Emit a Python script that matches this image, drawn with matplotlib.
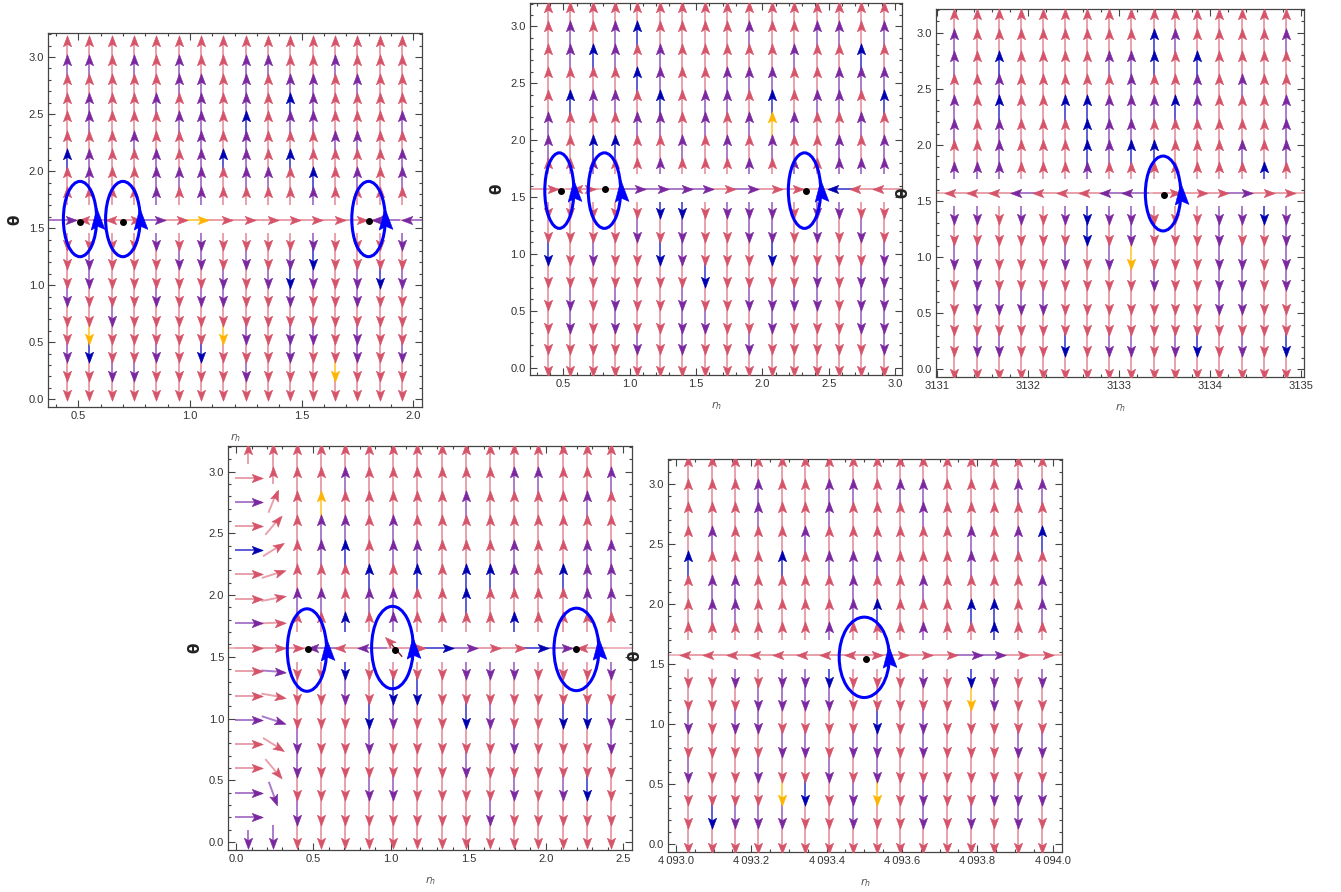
import numpy as np
import matplotlib
matplotlib.use("Agg")
import matplotlib.pyplot as plt
from matplotlib.path import Path
from matplotlib.patches import Ellipse
from matplotlib.ticker import MultipleLocator, FuncFormatter

# ---- data ----------------------------------------------------------------
# every panel: column positions, arrow rows above / below theta = pi/2,
# colour code per column (r red, p purple, b blue, o orange, top -> bottom)
HALF_PI = 1.5708

P1_COLS = [0.45, 0.55, 0.65, 0.75, 0.85, 0.95, 1.05, 1.15, 1.25, 1.35, 1.45, 1.55, 1.65, 1.75, 1.85, 1.95]
P1_UP_Y = [3.14, 2.97, 2.81, 2.64, 2.48, 2.31, 2.15, 1.99, 1.82]
P1_DOWN_Y = [1.35, 1.19, 1.02, 0.86, 0.69, 0.53, 0.37, 0.20, 0.04]
P1_UP_C = ["rprrrrbrr", "rprpprppr", "rrrrrrrrr", "rprrrprrr", "rrrprrppp", "rpprprrpr",
           "rrppppppp", "rrrrrrbrr", "rpppbpppr", "rprrrrrpr", "rrpbprbrr", "rrppprrbp",
           "rprrrprrr", "rrprrprpr", "rrrrrrrrr", "rrrrprppr"]
P1_DOWN_C = ["rrrprrprr", "rpprrobrr", "rrrrprrpr", "rrrrrrrpr", "prrprrprr", "rprrrrrrr",
             "pprprrbrr", "rrpprorrr", "rprrrprpr", "rrprrrrrr", "rpbprpprr", "pbprrprrr",
             "rrrrrrror", "rrpprpprr", "rrbrrrrrr", "prprrrprr"]
P1_H_X = [0.466, 0.525, 0.645, 0.76, 0.866, 0.965, 1.06, 1.165, 1.27, 1.37, 1.47, 1.57, 1.67, 1.77, 1.84, 1.97]
P1_H_DIR = "RLLRRRRRRRRRRRLL"
P1_H_C = "prrrprorrrrrrrpp"
P1_DOTS_X = [0.51, 0.70, 1.80]
P1_DOTS_Y = [1.555, 1.555, 1.56]
P1_ELL_X = [0.508, 0.70, 1.80]
P1_ELL_Y = [1.58, 1.58, 1.58]
P1_ELL_W = [0.149, 0.155, 0.15]
P1_ELL_H = [0.66, 0.66, 0.66]

P2_COLS = [0.384, 0.553, 0.722, 0.891, 1.059, 1.228, 1.397, 1.566, 1.734, 1.903, 2.072, 2.241, 2.409, 2.578, 2.747, 2.916]
P2_UP_Y = [3.17, 3.0, 2.80, 2.60, 2.40, 2.20, 2.0, 1.80]
P2_DOWN_Y = [1.36, 1.15, 0.95, 0.75, 0.55, 0.35, 0.16, -0.03]
P2_UP_C = ["rrrrrppr", "rpprbrrr", "rrbrprbp", "rpprprbr", "rbrbrprr", "rrppbprp",
           "rrrrrrpr", "rrrrpprr", "rrrpprpr", "rprprprp", "rrrpbopr", "rrprrprp",
           "rprrprrr", "rprpprpp", "rrbprprp", "rprpbrpp"]
P2_DOWN_C = ["rrbrrrrr", "rrrrpprr", "rrprrrrr", "rrrrpprr", "rprrrrpr", "brbrrrrr",
             "bpprpppr", "rrrbrprr", "prrrrrrr", "pprrprpr", "ppbrpprr", "rrrrprrr",
             "pprpprrr", "prrrrrrr", "rprppprr", "rrpppppr"]
P2_H_X = [0.425, 0.60, 0.70, 1.08, 1.254, 1.43, 1.593, 1.756, 1.932, 2.108, 2.27, 2.535, 2.698, 2.874]
P2_H_DIR = "RLRRRRRRRRRLLL"
P2_H_C = "rrrpppprprrbrr"
P2_DOTS_X = [0.48, 0.817, 2.33]
P2_DOTS_Y = [1.55, 1.566, 1.55]
P2_ELL_X = [0.47, 0.81, 2.318]
P2_ELL_Y = [1.556, 1.556, 1.556]
P2_ELL_W = [0.219, 0.244, 0.244]
P2_ELL_H = [0.664, 0.664, 0.664]

P3_COLS = [3131.187, 3131.434, 3131.676, 3131.918, 3132.16, 3132.40, 3132.645, 3132.89,
           3133.13, 3133.38, 3133.62, 3133.86, 3134.10, 3134.35, 3134.60, 3134.84]
P3_UP_Y = [3.17, 2.99, 2.79, 2.59, 2.40, 2.19, 2.0, 1.80]
P3_DOWN_Y = [1.34, 1.15, 0.94, 0.75, 0.54, 0.35, 0.16, -0.04]
P3_UP_C = ["rpprpprp", "rrrrrrrp", "rrbpbppp", "rrrrrrrr", "rrrrrrrr", "rrrrbrrr",
           "rrrrbbbp", "rrprpppr", "rrppppbr", "rbbrprbr", "rprrbrrr", "rrbpprrr",
           "rrrrrrrr", "rrrprrpr", "rrrrrrrb", "rprrpppr"]
P3_DOWN_C = ["prprrrrr", "prppprpr", "rrrrprpr", "prrrprrr", "rrrrprrr", "prprrrbr",
             "bbrrrrrr", "prprrrpr", "pporrrpr", "rrrprrrr", "rrrrrrpr", "rrrrrrbr",
             "ppppprrr", "prppprpr", "brrrrrrr", "pppprrbr"]
P3_H_X = [3131.14, 3131.38, 3131.62, 3131.87, 3132.11, 3132.37, 3132.61, 3132.85, 3133.09,
          3133.62, 3133.91, 3134.15, 3134.41, 3134.65, 3134.88]
P3_H_DIR = "LLLLLLLLLRRRRRR"
P3_H_C = "rrrprrrpprrrprr"
P3_DOTS_X = [3133.50]
P3_DOTS_Y = [1.55]
P3_ELL_X = [3133.485]
P3_ELL_Y = [1.567]
P3_ELL_W = [0.39]
P3_ELL_H = [0.667]

P4_COLS = [0.392, 0.547, 0.704, 0.861, 1.016, 1.171, 1.328, 1.485, 1.64, 1.797, 1.952, 2.109, 2.264, 2.421]
P4_UP_Y = [3.18, 3.0, 2.80, 2.61, 2.41, 2.21, 2.02, 1.82]
P4_DOWN_Y = [1.36, 1.155, 0.964, 0.76, 0.57, 0.383, 0.18, -0.01]
P4_UP_C = ["rrrrrrpr", "rropprpr", "rprpbrrb", "rrrrrbpr", "rrrpprpp", "rrrrpbrr", "rrrrrrrr",
           "rrprrbbr", "rrrrrbrr", "rprrpprb", "rprrrrrr", "rrrrrbrr", "rrprpppr", "rprrpppr"]
P4_DOWN_C = ["rrrpprpr", "rrrrrrrr", "bprrrrrr", "rrbprprr", "rbprrprr", "rbrrrrrr", "rrrrrrrr",
             "prbrprrr", "prprrrpr", "prrprprr", "rrrrrrrr", "rrbrrprr", "rrbrrbrr", "prpprrrr"]
P4_H_X = [0.402, 0.499, 0.671, 0.822, 1.188, 1.371, 1.522, 1.672, 1.833, 1.984, 2.135, 2.232]
P4_H_DIR = "RLLLRRRRRRRL"
P4_H_C = "rprprbprrbpr"
# first two columns of the lower-left panel: nearly horizontal field
P4_LEFT_X = 0.08
P4_LEFT_Y = [2.95, 2.754, 2.56, 2.364, 2.167, 1.97, 1.775, 1.573, 1.383, 1.186, 0.99, 0.794, 0.60, 0.40, 0.20]
P4_LEFT_C = "rprbrrprrrprrpp"
P4_DIAG_X = 0.237
P4_DIAG_Y = [2.754, 2.56, 2.364, 2.167, 1.97, 1.775, 1.573, 1.383, 1.186, 0.99, 0.794, 0.60, 0.40]
P4_DIAG_ANG = [68, 50, 32, 18, 11, 2, 0, -4, -10, -18, -32, -50, -70]
P4_DIAG_C = "rrrrrrrprprrp"
P4_EDGE_X = [0.08, 0.08, 0.237, 0.237, 0.237]
P4_EDGE_HEAD = [3.18, -0.01, 3.18, 3.0, -0.01]
P4_EDGE_TAIL = [3.06, 0.10, 3.0, 2.90, 0.14]
P4_EDGE_C = "rprrp"
P4_SMALL = [1.07, 1.505, 0.985, 1.63]
P4_DOTS_X = [0.467, 1.026, 2.195]
P4_DOTS_Y = [1.567, 1.553, 1.562]
P4_ELL_X = [0.458, 1.01, 2.198]
P4_ELL_Y = [1.555, 1.575, 1.56]
P4_ELL_W = [0.254, 0.269, 0.29]
P4_ELL_H = [0.668, 0.668, 0.668]

P5_COLS = [4093.033, 4093.095, 4093.156, 4093.218, 4093.283, 4093.344, 4093.407, 4093.471,
           4093.533, 4093.595, 4093.657, 4093.720, 4093.783, 4093.845, 4093.909, 4093.971]
P5_UP_Y = [3.19, 3.0, 2.805, 2.61, 2.40, 2.196, 2.0, 1.807]
P5_DOWN_Y = [1.35, 1.156, 0.962, 0.767, 0.559, 0.365, 0.171, -0.037]
P5_UP_C = ["rrrrbrrr", "rrrprppr", "rrrrrppr", "rpprrrrr", "rrrrbrrr", "rrrprrrr",
           "rpprprrp", "rprrpppr", "rrrrprbr", "rprrrrrr", "rpprrprp", "rrrrrrrr",
           "rrrpprbr", "rrrrrrbb", "rprprrrr", "rprbrppr"]
P5_DOWN_C = ["rrprprrr", "rrrrrrbr", "prprrrpr", "rpprprpr", "pprpropr", "pprprbrr",
             "bprrprrr", "rrrprppr", "rrbpporr", "rrrrrrrr", "prpprppr", "rrrrrrrr",
             "borrrrpr", "pprrrprr", "rrrprppr", "prrprprr"]
P5_H_X = [4093.024, 4093.086, 4093.148, 4093.21, 4093.272, 4093.334, 4093.396, 4093.462,
          4093.535, 4093.603, 4093.666, 4093.732, 4093.798, 4093.86, 4093.922, 4093.988]
P5_H_DIR = "LLLLLLLLRRRRRRRR"
P5_H_C = "rrrrrrrrrrrrpprr"
P5_DOTS_X = [4093.504]
P5_DOTS_Y = [1.544]
P5_ELL_X = [4093.50]
P5_ELL_Y = [1.555]
P5_ELL_W = [0.133]
P5_ELL_H = [0.67]

# ---- styling ---------------------------------------------------------------
HEAD = {'r': '#d6546a', 'p': '#7b28a0', 'b': '#0000b0', 'o': '#ffb400'}
LINE = {'r': '#e9a1ac', 'p': '#ab7bca', 'b': '#5c5cd8', 'o': '#ffcf55'}
LOOP = '#0000ff'
W, H = 1341, 892
UP_START, DOWN_START = 1.70, 1.46
Y_LIM = (-0.065, 3.208)

SMALL = np.array([[0, 1], [-0.72, -0.92], [0, -0.5], [0.72, -0.92], [0, 1]])
BIG = np.array([[0, 1], [-0.6, -0.9], [0, -0.6], [0.6, -0.9], [0, 1]])
CODES = [Path.MOVETO, Path.LINETO, Path.LINETO, Path.LINETO, Path.CLOSEPOLY]


def head(ax, x, y, ang, col, big=False, ms=8.3, z=3):
    t = np.deg2rad(ang - 90)
    c, s = np.cos(t), np.sin(t)
    v = (BIG if big else SMALL) @ np.array([[c, s], [-s, c]])
    ax.plot([x], [y], ls='none', marker=Path(v, CODES), ms=ms * np.abs(v).max(),
            mfc=col, mec=col, mew=0.4, zorder=z)


def seg(ax, x0, y0, x1, y1, c, lw=1.4):
    ax.plot([x0, x1], [y0, y1], color=LINE[c], lw=lw, solid_capstyle='butt', zorder=1)


def px_arrow(ax, xc, yc, ang, length, c):
    X, Y = ax.transData.transform((xc, yc))
    r = np.deg2rad(ang)
    dx, dy = np.cos(r) * length / 2, np.sin(r) * length / 2
    inv = ax.transData.inverted()
    (x0, y0), (x1, y1) = inv.transform([(X - dx, Y - dy), (X + dx, Y + dy)])
    (hx, hy), = inv.transform([(X + dx - np.cos(r) * 4, Y + dy - np.sin(r) * 4)])
    seg(ax, x0, y0, x1, y1, c)
    head(ax, hx, hy, ang, HEAD[c])


def fmt_plain(digits):
    return FuncFormatter(lambda v, p: f"{v:.{digits}f}")


def fmt_grouped(v, p):
    s = f"{v:.1f}"
    return s[0] + "\u2009" + s[1:]


def setup(ax, xlim, xmaj, xmin, fmt):
    ax.set_xlim(*xlim)
    ax.set_ylim(*Y_LIM)
    ax.xaxis.set_major_locator(MultipleLocator(xmaj))
    ax.xaxis.set_minor_locator(MultipleLocator(xmin))
    ax.yaxis.set_major_locator(MultipleLocator(0.5))
    ax.yaxis.set_minor_locator(MultipleLocator(0.1))
    ax.xaxis.set_major_formatter(fmt)
    ax.yaxis.set_major_formatter(fmt_plain(1))
    ax.tick_params(which='both', direction='in', top=True, right=True,
                   color='#444444', width=0.8, labelsize=8, labelcolor='#333333', pad=3)
    ax.tick_params(which='major', length=5)
    ax.tick_params(which='minor', length=2.5)
    for sp in ax.spines.values():
        sp.set_color('#444444')
        sp.set_linewidth(0.9)
    for lab in ax.get_xticklabels() + ax.get_yticklabels():
        lab.set_family(['Liberation Sans', 'DejaVu Sans'])


def draw_panel(ax, cols, up_y, down_y, up_c, down_c, hx, hdir, hc, step,
               dots_x, dots_y, ex, ey, ew, eh):
    for x, uc, dc in zip(cols, up_c, down_c):
        prev = UP_START
        for y, c in zip(up_y[::-1], uc[::-1]):
            seg(ax, x, prev, x, y, c)
            head(ax, x, y, 90, HEAD[c])
            prev = y
        prev = DOWN_START
        for y, c in zip(down_y, dc):
            seg(ax, x, prev, x, y, c)
            head(ax, x, y, 270, HEAD[c])
            prev = y
    x0, x1 = ax.get_xlim()
    ax.plot([x0, x1], [HALF_PI, HALF_PI], color=LINE['r'], lw=1.1, zorder=0.5)
    for x, d, c in zip(hx, hdir, hc):
        sgn = 1 if d == 'R' else -1
        seg(ax, x - sgn * step, HALF_PI, x, HALF_PI, c)
        head(ax, x, HALF_PI, 0 if d == 'R' else 180, HEAD[c])
    for x, y, w, h in zip(ex, ey, ew, eh):
        ax.add_patch(Ellipse((x, y), w, h, fill=False, ec=LOOP, lw=2.2, zorder=5))
        head(ax, x + w / 2, y, 93, LOOP, big=True, ms=16.5, z=6)
    ax.plot(dots_x, dots_y, 'o', color='black', ms=4.0, zorder=7)


def add_axes(fig, left, top, right, bottom):
    ax = fig.add_axes([left / W, 1 - bottom / H, (right - left) / W, (bottom - top) / H])
    ax.text(-33 / (right - left), 0.5, '\u03b8', transform=ax.transAxes, rotation=90,
            ha='center', va='center', fontsize=11, fontweight='bold', color='#222222')
    ax.text(0.5, -31 / (bottom - top), r'$r_h$', transform=ax.transAxes,
            ha='center', va='center', fontsize=8, color='#555555')
    return ax


fig = plt.figure(figsize=(W / 100, H / 100), dpi=100)

ax1 = add_axes(fig, 48.3, 33.3, 421.7, 406.7)
setup(ax1, (0.366, 2.038), 0.5, 0.1, fmt_plain(1))
draw_panel(ax1, P1_COLS, P1_UP_Y, P1_DOWN_Y, P1_UP_C, P1_DOWN_C, P1_H_X, P1_H_DIR, P1_H_C,
           0.1, P1_DOTS_X, P1_DOTS_Y, P1_ELL_X, P1_ELL_Y, P1_ELL_W, P1_ELL_H)

ax2 = add_axes(fig, 530, 2.7, 902.3, 375)
setup(ax2, (0.249, 3.055), 0.5, 0.1, fmt_plain(1))
draw_panel(ax2, P2_COLS, P2_UP_Y, P2_DOWN_Y, P2_UP_C, P2_DOWN_C, P2_H_X, P2_H_DIR, P2_H_C,
           0.169, P2_DOTS_X, P2_DOTS_Y, P2_ELL_X, P2_ELL_Y, P2_ELL_W, P2_ELL_H)

ax3 = add_axes(fig, 936, 9.3, 1304.3, 376.7)
setup(ax3, (3130.985, 3135.04), 1, 0.2, fmt_plain(0))
draw_panel(ax3, P3_COLS, P3_UP_Y, P3_DOWN_Y, P3_UP_C, P3_DOWN_C, P3_H_X, P3_H_DIR, P3_H_C,
           0.2435, P3_DOTS_X, P3_DOTS_Y, P3_ELL_X, P3_ELL_Y, P3_ELL_W, P3_ELL_H)

ax4 = add_axes(fig, 228.3, 446, 632.3, 850)
setup(ax4, (-0.05, 2.559), 0.5, 0.1, fmt_plain(1))
draw_panel(ax4, P4_COLS, P4_UP_Y, P4_DOWN_Y, P4_UP_C, P4_DOWN_C, P4_H_X, P4_H_DIR, P4_H_C,
           0.156, P4_DOTS_X, P4_DOTS_Y, P4_ELL_X, P4_ELL_Y, P4_ELL_W, P4_ELL_H)
for y, c in zip(P4_LEFT_Y, P4_LEFT_C):
    px_arrow(ax4, P4_LEFT_X, y, 0, 26, c)
for y, a, c in zip(P4_DIAG_Y, P4_DIAG_ANG, P4_DIAG_C):
    px_arrow(ax4, P4_DIAG_X, y, a, 23, c)
for x, yh, yt, c in zip(P4_EDGE_X, P4_EDGE_HEAD, P4_EDGE_TAIL, P4_EDGE_C):
    seg(ax4, x, yt, x, yh, c)
    head(ax4, x, yh, 90 if yh > yt else 270, HEAD[c])
ax4.plot(P4_SMALL[0::2], P4_SMALL[1::2], color='#7a2030', lw=1.0, zorder=2)
head(ax4, P4_SMALL[2], P4_SMALL[3], 135, HEAD['r'])

ax5 = add_axes(fig, 668.3, 459, 1061.7, 851.7)
setup(ax5, (4092.98, 4094.024), 0.2, 0.05, FuncFormatter(fmt_grouped))
draw_panel(ax5, P5_COLS, P5_UP_Y, P5_DOWN_Y, P5_UP_C, P5_DOWN_C, P5_H_X, P5_H_DIR, P5_H_C,
           0.0625, P5_DOTS_X, P5_DOTS_Y, P5_ELL_X, P5_ELL_Y, P5_ELL_W, P5_ELL_H)

fig.savefig('out.png', dpi=100)
